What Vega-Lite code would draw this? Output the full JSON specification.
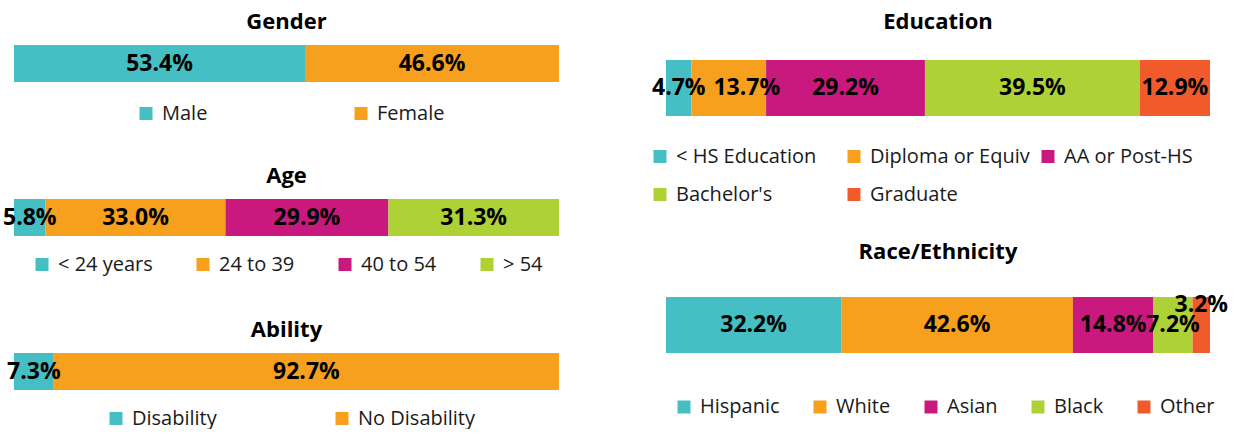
{
  "$schema": "https://vega.github.io/schema/vega-lite/v6.json",
  "padding": {"left": 3, "top": 11, "right": 0, "bottom": 0},
  "spacing": 91,
  "config": {
    "view": {"stroke": null},
    "font": "Open Sans",
    "title": {"font": "Open Sans", "fontSize": 22, "fontWeight": "bold", "color": "#000000", "baseline": "alphabetic", "anchor": "middle", "frame": "group"},
    "legend": {"orient": "none", "direction": "horizontal", "title": null, "symbolType": "square", "symbolSize": 169, "symbolStrokeWidth": 0, "labelFont": "Open Sans", "labelFontSize": 20, "labelOffset": 6, "labelColor": "#1a1a1a", "padding": 0, "labelLimit": 400}
  },
  "data": {
    "values": [
      {"panel": "Gender", "cat": "Male", "p": 0.534, "i": 1},
      {"panel": "Gender", "cat": "Female", "p": 0.466, "i": 2},
      {"panel": "Age", "cat": "< 24 years", "p": 0.058, "i": 1},
      {"panel": "Age", "cat": "24 to 39", "p": 0.330, "i": 2},
      {"panel": "Age", "cat": "40 to 54", "p": 0.299, "i": 3},
      {"panel": "Age", "cat": "> 54", "p": 0.313, "i": 4},
      {"panel": "Ability", "cat": "Disability", "p": 0.073, "i": 1},
      {"panel": "Ability", "cat": "No Disability", "p": 0.927, "i": 2},
      {"panel": "Education", "cat": "< HS Education", "p": 0.047, "i": 1},
      {"panel": "Education", "cat": "Diploma or Equiv", "p": 0.137, "i": 2},
      {"panel": "Education", "cat": "AA or Post-HS", "p": 0.292, "i": 3},
      {"panel": "Education", "cat": "Bachelor's", "p": 0.395, "i": 4},
      {"panel": "Education", "cat": "Graduate", "p": 0.129, "i": 5},
      {"panel": "Race", "cat": "Hispanic", "p": 0.322, "i": 1},
      {"panel": "Race", "cat": "White", "p": 0.426, "i": 2},
      {"panel": "Race", "cat": "Asian", "p": 0.148, "i": 3},
      {"panel": "Race", "cat": "Black", "p": 0.072, "i": 4},
      {"panel": "Race", "cat": "Other", "p": 0.032, "i": 5}
    ]
  },
  "resolve": {"scale": {"color": "independent", "x": "independent", "y": "independent"}, "legend": {"color": "independent"}},
  "hconcat": [
    {
      "bounds": "flush",
      "spacing": 117,
      "resolve": {"scale": {"color": "independent", "x": "independent", "y": "independent"}, "legend": {"color": "independent"}},
      "vconcat": [
        {
          "title": {"text": "Gender", "offset": 11},
          "width": 545, "height": 37,
          "transform": [{"filter": "datum.panel === 'Gender'"}],
          "encoding": {
            "y": {"field": "panel", "type": "nominal", "axis": null, "scale": {"paddingInner": 0, "paddingOuter": 0}}
          },
          "layer": [
            {
              "mark": {"type": "bar"},
              "encoding": {
                "x": {"field": "p", "type": "quantitative", "stack": "zero", "scale": {"domain": [0, 1]}, "axis": null},
                "color": {"field": "cat", "type": "nominal", "scale": {"domain": ["Male", "Female"], "range": ["#45BFC4", "#F7A01D"]}, "legend": {"legendX": 122, "legendY": 58.5, "columnPadding": 143}},
                "order": {"field": "i", "type": "quantitative"}
              }
            },
            {
              "mark": {"type": "text", "font": "Open Sans", "fontSize": 23, "fontWeight": "bold", "color": "#000000"},
              "encoding": {
                "x": {"field": "p", "type": "quantitative", "stack": "zero", "bandPosition": 0.5, "scale": {"domain": [0, 1]}, "axis": null},
                "detail": {"field": "cat", "type": "nominal"},
                "order": {"field": "i", "type": "quantitative"},
                "text": {"field": "p", "type": "quantitative", "format": ".1%"}
              }
            }
          ]
        },
        {
          "title": {"text": "Age", "offset": 11},
          "width": 545, "height": 37,
          "transform": [{"filter": "datum.panel === 'Age'"}],
          "encoding": {
            "y": {"field": "panel", "type": "nominal", "axis": null, "scale": {"paddingInner": 0, "paddingOuter": 0}}
          },
          "layer": [
            {
              "mark": {"type": "bar"},
              "encoding": {
                "x": {"field": "p", "type": "quantitative", "stack": "zero", "scale": {"domain": [0, 1]}, "axis": null},
                "color": {"field": "cat", "type": "nominal", "scale": {"domain": ["< 24 years", "24 to 39", "40 to 54", "> 54"], "range": ["#45BFC4", "#F7A01D", "#C9197F", "#AED136"]}, "legend": {"legendX": 18, "legendY": 55.5, "columnPadding": 40}},
                "order": {"field": "i", "type": "quantitative"}
              }
            },
            {
              "mark": {"type": "text", "font": "Open Sans", "fontSize": 23, "fontWeight": "bold", "color": "#000000"},
              "encoding": {
                "x": {"field": "p", "type": "quantitative", "stack": "zero", "bandPosition": 0.5, "scale": {"domain": [0, 1]}, "axis": null},
                "detail": {"field": "cat", "type": "nominal"},
                "order": {"field": "i", "type": "quantitative"},
                "text": {"field": "p", "type": "quantitative", "format": ".1%"}
              }
            }
          ]
        },
        {
          "title": {"text": "Ability", "offset": 11},
          "width": 545, "height": 37,
          "transform": [{"filter": "datum.panel === 'Ability'"}],
          "encoding": {
            "y": {"field": "panel", "type": "nominal", "axis": null, "scale": {"paddingInner": 0, "paddingOuter": 0}}
          },
          "layer": [
            {
              "mark": {"type": "bar"},
              "encoding": {
                "x": {"field": "p", "type": "quantitative", "stack": "zero", "scale": {"domain": [0, 1]}, "axis": null},
                "color": {"field": "cat", "type": "nominal", "scale": {"domain": ["Disability", "No Disability"], "range": ["#45BFC4", "#F7A01D"]}, "legend": {"legendX": 92, "legendY": 55.5, "columnPadding": 115}},
                "order": {"field": "i", "type": "quantitative"}
              }
            },
            {
              "mark": {"type": "text", "font": "Open Sans", "fontSize": 23, "fontWeight": "bold", "color": "#000000"},
              "encoding": {
                "x": {"field": "p", "type": "quantitative", "stack": "zero", "bandPosition": 0.5, "scale": {"domain": [0, 1]}, "axis": null},
                "detail": {"field": "cat", "type": "nominal"},
                "order": {"field": "i", "type": "quantitative"},
                "text": {"field": "p", "type": "quantitative", "format": ".1%"}
              }
            }
          ]
        }
      ]
    },
    {
      "bounds": "flush",
      "spacing": 181,
      "resolve": {"scale": {"color": "independent", "x": "independent", "y": "independent"}, "legend": {"color": "independent"}},
      "vconcat": [
        {
          "title": {"text": "Education", "offset": 11},
          "width": 544, "height": 71,
          "transform": [{"filter": "datum.panel === 'Education'"}],
          "encoding": {
            "y": {"field": "panel", "type": "nominal", "axis": null, "scale": {"paddingInner": 0, "paddingOuter": 0.1339, "align": 1}}
          },
          "layer": [
            {
              "mark": {"type": "bar"},
              "encoding": {
                "x": {"field": "p", "type": "quantitative", "stack": "zero", "scale": {"domain": [0, 1]}, "axis": null},
                "color": {"field": "cat", "type": "nominal", "scale": {"domain": ["< HS Education", "Diploma or Equiv", "AA or Post-HS", "Bachelor's", "Graduate"], "range": ["#45BFC4", "#F7A01D", "#C9197F", "#AED136", "#F15A2B"]}, "legend": {"legendX": -16, "legendY": 101.5, "columns": 3, "rowPadding": 18, "columnPadding": 8, "gridAlign": "all"}},
                "order": {"field": "i", "type": "quantitative"}
              }
            },
            {
              "mark": {"type": "text", "font": "Open Sans", "fontSize": 23, "fontWeight": "bold", "color": "#000000"},
              "encoding": {
                "x": {"field": "p", "type": "quantitative", "stack": "zero", "bandPosition": 0.5, "scale": {"domain": [0, 1]}, "axis": null},
                "detail": {"field": "cat", "type": "nominal"},
                "order": {"field": "i", "type": "quantitative"},
                "text": {"condition": {"test": "datum.cat === 'Diploma or Equiv'", "value": ""}, "field": "p", "type": "quantitative", "format": ".1%"}
              }
            },
            {
              "mark": {"type": "text", "font": "Open Sans", "fontSize": 23, "fontWeight": "bold", "color": "#000000", "dx": 18},
              "encoding": {
                "x": {"field": "p", "type": "quantitative", "stack": "zero", "bandPosition": 0.5, "scale": {"domain": [0, 1]}, "axis": null},
                "detail": {"field": "cat", "type": "nominal"},
                "order": {"field": "i", "type": "quantitative"},
                "text": {"condition": {"test": "datum.cat !== 'Diploma or Equiv'", "value": ""}, "field": "p", "type": "quantitative", "format": ".1%"}
              }
            }
          ]
        },
        {
          "title": {"text": "Race/Ethnicity", "offset": 30},
          "width": 544, "height": 56,
          "transform": [{"filter": "datum.panel === 'Race'"}],
          "encoding": {
            "y": {"field": "panel", "type": "nominal", "axis": null, "scale": {"paddingInner": 0, "paddingOuter": 0}}
          },
          "layer": [
            {
              "mark": {"type": "bar"},
              "encoding": {
                "x": {"field": "p", "type": "quantitative", "stack": "zero", "scale": {"domain": [0, 1]}, "axis": null},
                "color": {"field": "cat", "type": "nominal", "scale": {"domain": ["Hispanic", "White", "Asian", "Black", "Other"], "range": ["#45BFC4", "#F7A01D", "#C9197F", "#AED136", "#F15A2B"]}, "legend": {"legendX": 8, "legendY": 100, "columnPadding": 30}},
                "order": {"field": "i", "type": "quantitative"}
              }
            },
            {
              "mark": {"type": "text", "font": "Open Sans", "fontSize": 23, "fontWeight": "bold", "color": "#000000"},
              "encoding": {
                "x": {"field": "p", "type": "quantitative", "stack": "zero", "bandPosition": 0.5, "scale": {"domain": [0, 1]}, "axis": null},
                "detail": {"field": "cat", "type": "nominal"},
                "order": {"field": "i", "type": "quantitative"},
                "text": {"condition": {"test": "datum.cat === 'Other'", "value": ""}, "field": "p", "type": "quantitative", "format": ".1%"}
              }
            },
            {
              "mark": {"type": "text", "font": "Open Sans", "fontSize": 23, "fontWeight": "bold", "color": "#000000", "dy": -20},
              "encoding": {
                "x": {"field": "p", "type": "quantitative", "stack": "zero", "bandPosition": 0.5, "scale": {"domain": [0, 1]}, "axis": null},
                "detail": {"field": "cat", "type": "nominal"},
                "order": {"field": "i", "type": "quantitative"},
                "text": {"condition": {"test": "datum.cat !== 'Other'", "value": ""}, "field": "p", "type": "quantitative", "format": ".1%"}
              }
            }
          ]
        }
      ]
    }
  ]
}
